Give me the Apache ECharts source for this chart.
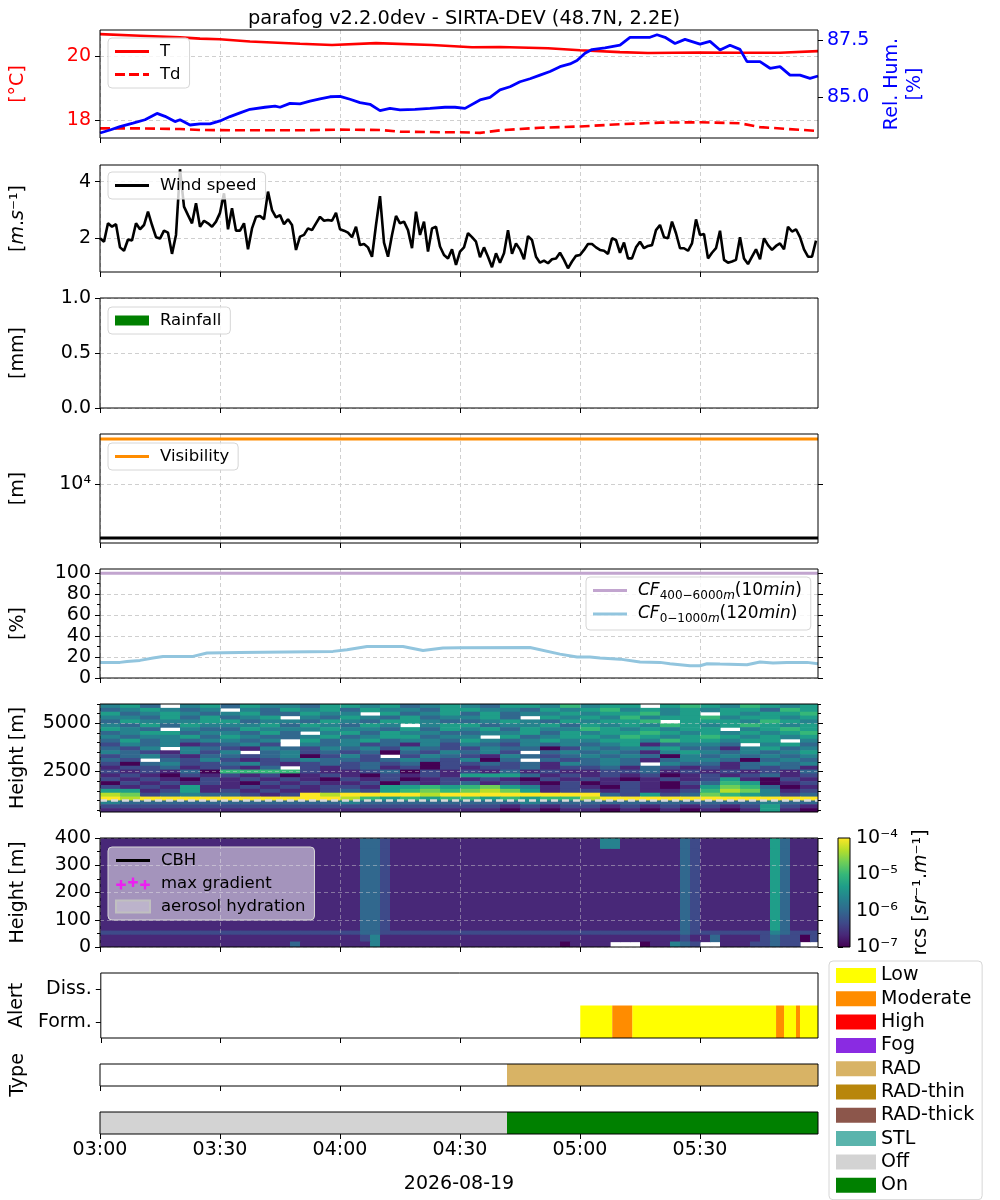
<!DOCTYPE html>
<html lang="en">
  <head>
    <meta charset="UTF-8" />
    <title>parafog v2.2.0dev - SIRTA-DEV</title>
    <script src="https://cdn.jsdelivr.net/npm/echarts@6.0.0/dist/echarts.min.js"></script>
    <style>
      html, body { margin: 0; padding: 0; background: #ffffff; }
      #chart { width: 1000px; height: 1200px; }
    </style>
  </head>
  <body>
    <div id="chart"></div>
    <script>
      var FONT = "DejaVu Sans";

      // time axis: minutes after 03:00 UTC on 2026-08-19
      var xTicks = [0, 30, 60, 90, 120, 150];
      var xMax = 179.5;

      // temperature / dew point [degC]
      var tempTimes = [0, 10, 20, 25, 30, 37.5, 50, 58, 69, 83, 93, 100, 112, 120, 130, 137, 150, 160, 170, 179.5];
      var tempVals = [20.68, 20.63, 20.58, 20.54, 20.52, 20.45, 20.38, 20.34, 20.40, 20.34, 20.27, 20.28, 20.24, 20.18, 20.12, 20.09, 20.11, 20.10, 20.10, 20.15];
      var dewTimes = [0, 10, 20, 25, 35, 50, 60, 70, 75, 85, 90, 95, 100, 110, 120, 130, 140, 150, 160, 165, 172, 179.5];
      var dewVals = [17.74, 17.74, 17.72, 17.69, 17.68, 17.68, 17.70, 17.69, 17.64, 17.62, 17.62, 17.60, 17.68, 17.76, 17.80, 17.87, 17.92, 17.93, 17.90, 17.78, 17.72, 17.66];

      // relative humidity [%]
      var rhTimes = [0, 2.5, 5, 8.25, 11.25, 14.25, 16.25, 18.75, 20, 22.5, 25, 27.5, 30, 32.5, 35, 37.5, 41.25, 43.75, 45, 47.5,
        50, 52.5, 55, 57.5, 60, 62.5, 65, 67.5, 70, 72.5, 75, 78.75, 82.5, 86.25, 88.75, 91.25, 95, 97.5, 100, 102.5,
        105, 107.5, 110, 112.5, 115, 117.5, 119.25, 121.25, 123, 126.25, 130, 132.5, 137.5, 139.25, 141.25, 143.75, 146.25, 150, 152.5, 155,
        157.5, 160, 161.75, 165, 167.5, 170, 172.5, 175, 177.5, 179.5];
      var rhVals = [83.42, 83.55, 83.70, 83.85, 84.00, 84.28, 84.15, 83.92, 84.00, 83.77, 83.82, 83.82, 83.95, 84.14, 84.30, 84.46, 84.55, 84.60, 84.55, 84.72,
        84.70, 84.82, 84.92, 85.01, 85.03, 84.90, 84.75, 84.68, 84.40, 84.50, 84.43, 84.46, 84.50, 84.55, 84.55, 84.50, 84.87, 84.98, 85.31, 85.45,
        85.67, 85.80, 85.96, 86.12, 86.33, 86.45, 86.60, 86.92, 87.08, 87.16, 87.28, 87.62, 87.62, 87.73, 87.62, 87.35, 87.53, 87.32, 87.44, 87.06,
        87.27, 87.09, 86.55, 86.55, 86.26, 86.33, 85.96, 85.96, 85.82, 85.92];

      // wind speed [m/s], one value per minute from 03:00
      var windSpeed = [
        2.00, 1.88, 2.53, 2.41, 2.50, 1.68, 1.56, 1.96, 1.92, 2.53,
        2.32, 2.47, 2.94, 2.47, 2.04, 1.99, 2.27, 2.20, 1.45, 2.12,
        4.44, 3.12, 2.82, 2.53, 3.24, 2.41, 2.62, 2.53, 2.41, 2.59,
        2.90, 3.59, 2.32, 3.06, 2.27, 2.27, 2.53, 1.61, 2.35, 2.76,
        2.79, 2.67, 3.65, 3.00, 2.74, 2.82, 2.50, 2.67, 2.47, 1.59,
        2.06, 2.12, 2.35, 2.29, 2.53, 2.76, 2.62, 2.65, 2.62, 2.90,
        2.32, 2.27, 2.20, 2.04, 2.41, 1.76, 1.80, 1.68, 1.35, 2.47,
        3.49, 1.85, 1.35, 2.12, 2.79, 2.53, 2.59, 2.29, 1.65, 2.94,
        2.12, 2.59, 1.53, 2.35, 2.41, 1.71, 1.41, 1.29, 1.61, 1.06,
        1.53, 1.68, 2.18, 2.04, 1.88, 1.33, 1.68, 1.35, 0.98, 1.47,
        1.14, 1.47, 2.29, 1.45, 1.82, 1.61, 1.26, 2.08, 1.94, 1.35,
        1.14, 1.21, 1.12, 1.26, 1.29, 1.49, 1.24, 0.94, 1.18, 1.38,
        1.41, 1.59, 1.80, 1.80, 1.68, 1.59, 1.56, 1.45, 2.00, 1.94,
        1.49, 1.85, 1.29, 1.29, 1.68, 1.88, 1.65, 1.73, 1.76, 2.29,
        2.47, 2.04, 2.00, 2.59, 2.18, 1.65, 1.65, 1.56, 1.82, 2.67,
        2.12, 2.15, 1.29, 1.49, 1.65, 2.27, 1.24, 1.14, 1.18, 1.24,
        2.04, 1.29, 1.09, 1.35, 1.61, 1.26, 2.00, 1.76, 1.59, 1.73,
        1.82, 1.61, 2.41, 2.24, 2.32, 2.04, 1.61, 1.35, 1.35, 1.92
      ];

      // rainfall [mm] (none)
      var rainTimes = [];
      var rainVals = [];

      // visibility [m]
      var visTimes = [0, 179.5];
      var visVals = [20000, 20000];
      var visLimit = [4400, 4400];

      // cloud fraction [%]
      var cfHighTimes = [0, 179.5];
      var cfHighVals = [100, 100];
      var cfLowTimes = [0, 5, 6.75, 10, 13.25, 15.75, 23.25, 26.75, 35, 58.25, 61.75, 66.75, 75.75, 80.75, 85.75, 90, 107.5, 115, 119.25, 122.5,
        125, 130, 135, 140, 142.5, 147.5, 150, 151.75, 155, 161.75, 165, 168.25, 171.75, 176.75, 179.5];
      var cfLowVals = [14.9, 14.9, 15.8, 16.8, 19.0, 20.6, 20.6, 23.8, 24.4, 25.4, 27.0, 30.1, 30.1, 26.3, 28.6, 28.8, 29.1, 22.8, 20.0, 20.0,
        19.0, 18.0, 15.2, 14.9, 13.6, 11.7, 11.7, 13.6, 13.3, 12.7, 15.2, 14.2, 14.9, 14.9, 13.6];

      // lidar range-corrected signal, coarse: digit d -> log10(rcs) = -7 + d/3, "." = no data
      // 400-6000 m panel: 5-min columns, rows listed top (5800-6000 m) to bottom (400-600 m)
      var hiStep = 5;
      var hiEdges = [400, 600, 800, 1000, 1200, 1400, 1600, 1800, 2000, 2200, 2400, 2600, 2800, 3000, 3200,
        3400, 3600, 3800, 4000, 4200, 4400, 4600, 4800, 5000, 5200, 5400, 5600, 5800, 6000];
      var hiRows = [
        "453.45 354435 545345 435546 455.56 546545",
        "345434 .43545 354435 544354 564545 455365",
        "534543 453354 4.5345 353445 455645 .54556",
        "443535 345.43 543534 453.54 546455 645545",
        "354445 534435 435543 345435 4556.5 554654",
        "435354 445354 354.45 534453 545465 456545",
        "543.43 354445 443535 453544 654545 5.4565",
        "345534 4353.4 535443 344535 455654 545456",
        "434453 543345 345534 4.5345 546545 654545",
        "353434 434.53 453443 543454 455465 5455.4",
        "243412 342.43 423142 432434 345134 43.453",
        "324.43 214324 342432 243302 434453 314534",
        "432142 4.3423 230324 342.34 343145 434345",
        "234213 323402 42.243 214323 434304 343434",
        "32.324 212343 323432 403.32 343134 430343",
        "203422 342123 232302 232314 343.43 313434",
        "122312 213.21 231202 122312 231321 213231",
        "212130 666621 123021 213121 122312 121213",
        "121021 212012 102121 555312 121201 212312",
        "212102 121210 212012 121021 210121 251021",
        "021212 102121 120212 312102 012102 365012",
        "212151 121212 215565 675412 102101 576301",
        "551251 212112 325676 787512 212112 687412",
        "872343 321298 999989 999999 932523 765423",
        "989999 999999 865656 656566 899999 999999",
        "433333 333333 433333 333433 333333 333433",
        "222222 222222 222222 221212 212121 212521",
        "111111 111111 111111 110101 101010 101510"
      ];
      // 0-400 m panel: 2.5-min columns, rows listed top (360-400 m) to bottom (0-20 m)
      var loStep = 2.5;
      var loEdges = [0, 20, 45, 60, 100, 200, 300, 360, 400];
      var loRows = [
        "111111111111 111111111111 113321111111 111111111111 114411111132 111111153111",
        "111111111111 111111111111 113321111111 111111111111 111111111132 111111153111",
        "111111111111 111111111111 113321111111 111111111111 111111111132 111111153111",
        "111111111111 111111111111 113321111111 111111111111 111111111132 111111153111",
        "111111111111 111111111111 113321111111 111111111111 111111111132 111111153111",
        "222222222222 222222222222 223322222222 222222222222 222222222232 222222243222",
        "111111111111 111111111111 112411111111 111111111111 111111111121 131111232202",
        "111111111111 111111131111 111411111111 111111111101 111...011432 ..11122322.."
      ];
      var cbhLevel = [1000, 1000];

      // fog alert / type / status spans [start, end] in minutes
      var alertLevels = ["Form.", "Diss."];
      var alertLow = [[120, 128], [133, 169], [171, 174], [175, 179.5]];
      var alertModerate = [[128, 133], [169, 171], [174, 175]];
      var typeRad = [[101.75, 179.5]];
      var statusOff = [[0, 101.75]];
      var statusOn = [[101.75, 179.5]];

      var viridis = ["#440154", "#482878", "#3e4a89", "#31688e", "#26828e", "#1f9e89", "#35b779", "#6ece58", "#b5de2b", "#fde725"];

      // ---- helpers ----
      function pairs(xs, ys) {
        return xs.map(function (x, i) { return [x, ys[i]]; });
      }
      function hhmm(v) {
        var m = 180 + Math.round(v);
        var h = Math.floor(m / 60), mm = m % 60;
        return (h < 10 ? "0" : "") + h + ":" + (mm < 10 ? "0" : "") + mm;
      }
      var SUP = { "-": "\u207b", "0": "\u2070", "1": "\u00b9", "2": "\u00b2", "3": "\u00b3", "4": "\u2074", "5": "\u2075", "6": "\u2076", "7": "\u2077", "8": "\u2078", "9": "\u2079" };
      function sup(n) {
        return String(n).split("").map(function (c) { return SUP[c] || c; }).join("");
      }
      function plain(v) { return String(v); }
      function merge(base, o) {
        var out = {};
        Object.keys(base).forEach(function (k) { out[k] = base[k]; });
        Object.keys(o).forEach(function (k) {
          var b = out[k], v = o[k];
          if (b && v && typeof b === "object" && typeof v === "object" && !Array.isArray(b) && !Array.isArray(v)) {
            out[k] = Object.assign({}, b, v);
          } else {
            out[k] = v;
          }
        });
        return out;
      }
      function buildCells(rows, edges, step) {
        var cells = [];
        var n = rows.length;
        rows.forEach(function (row, i) {
          var r = n - 1 - i;
          var s = row.replace(/ /g, "");
          for (var c = 0; c < s.length; c++) {
            if (s[c] === ".") continue;
            cells.push([c * step, edges[r], -7 + Number(s[c]) / 3, Math.min((c + 1) * step, xMax), edges[r + 1]]);
          }
        });
        return cells;
      }

      var gridLine = { color: "#cfcfcf", type: [4, 3], width: 1 };
      var gridOver = { color: "rgba(210,210,210,0.45)", type: [4, 3], width: 1 };

      // ---- grids ----
      var panels = [
        [30, 108], [165, 107], [298, 110], [434, 109], [569, 109],
        [704, 108], [838, 109], [973, 65], [1064, 22], [1112, 22]
      ];
      var grids = panels.map(function (p) {
        return { left: 100, width: 718, top: p[0], height: p[1], show: true, borderColor: "#000", borderWidth: 1, backgroundColor: "transparent", z: 6 };
      });
      grids.push({ left: 838, top: 838, width: 12, height: 109, show: true, borderColor: "#000", borderWidth: 1, backgroundColor: "transparent", z: 6 });

      // ---- x axes ----
      var xAxes = [];
      for (var i = 0; i < 10; i++) {
        var xa = {
          type: "value", gridIndex: i, min: 0, max: xMax,
          axisLine: { show: false },
          axisTick: { show: true, length: 5, customValues: xTicks, lineStyle: { color: "#000" } },
          axisLabel: { show: i === 9, customValues: xTicks, formatter: hhmm, fontSize: 19, fontFamily: FONT, color: "#000", margin: 7 },
          splitLine: { show: i <= 6, lineStyle: i >= 5 ? gridOver : gridLine },
          z: i === 5 || i === 6 ? 4 : 0
        };
        if (i === 9) {
          xa.name = "2026-08-19";
          xa.nameLocation = "middle";
          xa.nameGap = 41;
          xa.nameTextStyle = { fontSize: 19, fontFamily: FONT, color: "#000" };
        }
        xAxes.push(xa);
      }
      xAxes.push({ type: "value", gridIndex: 10, min: 0, max: 1, show: false });

      // ---- y axes ----
      var yBase = {
        type: "value", position: "left",
        axisLine: { show: false },
        axisTick: { show: true, length: 5, lineStyle: { color: "#000", width: 1 } },
        axisLabel: { show: true, fontSize: 19, fontFamily: FONT, color: "#000", margin: 9 },
        splitLine: { show: false, lineStyle: gridLine },
        nameLocation: "middle", nameRotate: 90, nameGap: 72,
        nameTextStyle: { fontSize: 19, fontFamily: FONT, color: "#000" }
      };
      function yAx(o) { return merge(yBase, o); }
      function tickOnly(gi, min, max, vals, pos, len) {
        return yAx({ gridIndex: gi, min: min, max: max, position: pos, axisLabel: { show: false }, axisTick: { length: len, customValues: vals } });
      }
      var italicRich = {
        n: { fontSize: 19, fontFamily: FONT, color: "#000" },
        i: { fontSize: 19, fontFamily: FONT, fontStyle: "italic", color: "#000" }
      };
      var cfTicks = [0, 20, 40, 60, 80, 100];
      var cfMinor = [10, 30, 50, 70, 90];
      var hiMajor = [2500, 5000];
      var hiMinor = [500, 1000, 1500, 2000, 3000, 3500, 4000, 4500, 5500, 6000];
      var loMajor = [0, 100, 200, 300, 400];
      var loMinor = [50, 150, 250, 350];

      var yAxes = [
        yAx({ gridIndex: 0, min: 17.44, max: 20.81, axisTick: { customValues: [18, 20] }, axisLabel: { customValues: [18, 20], color: "#ff0000", formatter: plain },
          splitLine: { show: true }, name: "[\u00b0C]", nameTextStyle: { color: "#ff0000" } }),
        yAx({ gridIndex: 0, position: "right", min: 83.2, max: 87.94, axisTick: { customValues: [85, 87.5] },
          axisLabel: { customValues: [85, 87.5], color: "#0000ff", formatter: function (v) { return v.toFixed(1); } },
          name: "Rel. Hum.\n[%]", nameGap: 56, nameTextStyle: { color: "#0000ff", lineHeight: 23 } }),
        yAx({ gridIndex: 1, min: 0.81, max: 4.59, axisTick: { customValues: [2, 4] }, axisLabel: { customValues: [2, 4], formatter: plain },
          splitLine: { show: true }, name: "{n|[}{i|m}{n|.}{i|s}{n|\u207b\u00b9]}", nameTextStyle: { rich: italicRich } }),
        yAx({ gridIndex: 2, min: 0, max: 1, interval: 0.5, axisLabel: { formatter: function (v) { return v.toFixed(1); } },
          splitLine: { show: true }, name: "[mm]" }),
        yAx({ gridIndex: 3, min: 3.61, max: 4.334, axisTick: { customValues: [4] },
          axisLabel: { customValues: [4], formatter: function () { return "10" + sup(4); } },
          splitLine: { show: true }, name: "[m]" }),
        tickOnly(3, 3.61, 4.334, [4], "right", 5),
        yAx({ gridIndex: 4, min: 0, max: 104, axisTick: { customValues: cfTicks }, axisLabel: { customValues: cfTicks, formatter: plain },
          splitLine: { show: true }, name: "[%]" }),
        tickOnly(4, 0, 104, cfMinor, "left", 3),
        tickOnly(4, 0, 104, cfTicks, "right", 5),
        tickOnly(4, 0, 104, cfMinor, "right", 3),
        yAx({ gridIndex: 5, min: 400, max: 6000, axisTick: { customValues: hiMajor }, axisLabel: { customValues: hiMajor, formatter: plain },
          splitLine: { show: true, lineStyle: gridOver }, name: "Height [m]", z: 4 }),
        tickOnly(5, 400, 6000, hiMinor, "left", 3),
        tickOnly(5, 400, 6000, hiMajor, "right", 5),
        tickOnly(5, 400, 6000, hiMinor, "right", 3),
        yAx({ gridIndex: 6, min: 0, max: 400, axisTick: { customValues: loMajor }, axisLabel: { customValues: loMajor, formatter: plain },
          splitLine: { show: true, lineStyle: gridOver }, name: "Height [m]", z: 4 }),
        tickOnly(6, 0, 400, loMinor, "left", 3),
        tickOnly(6, 0, 400, loMajor, "right", 5),
        tickOnly(6, 0, 400, loMinor, "right", 3),
        yAx({ type: "category", gridIndex: 7, data: alertLevels, axisTick: { alignWithLabel: true }, name: "Alert" }),
        yAx({ type: "category", gridIndex: 8, data: ["t"], axisTick: { show: false }, axisLabel: { show: false }, name: "Type" }),
        yAx({ type: "category", gridIndex: 9, data: ["s"], axisTick: { show: false }, axisLabel: { show: false } }),
        yAx({ gridIndex: 10, position: "right", min: -7, max: -4, interval: 1,
          axisLabel: { formatter: function (v) { return "10" + sup(v); }, margin: 6 },
          name: "{n|rcs [}{i|sr}{n|\u207b\u00b9.}{i|m}{n|\u207b\u00b9]}", nameGap: 62, nameTextStyle: { rich: italicRich } })
      ];

      // ---- series ----
      var series = [];
      function add(s) { series.push(s); return series.length - 1; }
      function line(name, xi, yi, data, color, width, dash, z) {
        return add({
          name: name, type: "line", xAxisIndex: xi, yAxisIndex: yi, data: data,
          symbol: "none", showSymbol: false, z: z || 3,
          lineStyle: { color: color, width: width, type: dash || "solid" },
          itemStyle: { color: color }
        });
      }
      function spanRender(color) {
        return function (params, api) {
          var s = api.coord([api.value(0), api.value(2)]);
          var e = api.coord([api.value(1), api.value(2)]);
          var h = api.size([0, 1])[1];
          return { type: "rect", shape: { x: s[0], y: s[1] - h / 2, width: e[0] - s[0], height: h }, style: { fill: color } };
        };
      }
      function spans(name, color, xi, yi, list) {
        return add({
          name: name, type: "custom", xAxisIndex: xi, yAxisIndex: yi,
          itemStyle: { color: color },
          encode: { x: [0, 1], y: 2 },
          data: list.map(function (s) { return [s[0], s[1], 0]; }),
          renderItem: spanRender(color)
        });
      }
      function cellRender(params, api) {
        var p0 = api.coord([api.value(0), api.value(1)]);
        var p1 = api.coord([api.value(3), api.value(4)]);
        return {
          type: "rect",
          shape: { x: p0[0], y: p1[1], width: p1[0] - p0[0] + 0.6, height: p0[1] - p1[1] + 0.6 },
          style: { fill: api.visual("color") }
        };
      }

      line("T", 0, 0, pairs(tempTimes, tempVals), "#ff0000", 2.6);
      line("Td", 0, 0, pairs(dewTimes, dewVals), "#ff0000", 2.6, [10, 5]);
      line("RH", 0, 1, pairs(rhTimes, rhVals), "#0000ff", 2.8);
      line("Wind speed", 1, 2, windSpeed.map(function (v, k) { return [k, v]; }), "#000000", 2.6);
      add({ name: "Rainfall", type: "bar", xAxisIndex: 2, yAxisIndex: 3, data: pairs(rainTimes, rainVals), itemStyle: { color: "#008000" } });
      line("Visibility", 3, 4, pairs(visTimes, visVals.map(Math.log10)), "#ff8c00", 3);
      line("visLimit", 3, 4, pairs(visTimes, visLimit.map(Math.log10)), "#000000", 3);
      line("cf400", 4, 6, pairs(cfHighTimes, cfHighVals), "#c2a5cf", 3);
      line("cf0", 4, 6, pairs(cfLowTimes, cfLowVals), "#92c5de", 3);

      var hiIdx = add({
        name: "rcsHigh", type: "custom", xAxisIndex: 5, yAxisIndex: 10, clip: true, z: 2,
        encode: { x: [0, 3], y: [1, 4] },
        data: buildCells(hiRows, hiEdges, hiStep), renderItem: cellRender
      });
      line("cbh1000", 5, 10, pairs(visTimes, cbhLevel), "#d9d9d9", 2.5, [7, 4], 3);
      var loIdx = add({
        name: "rcsLow", type: "custom", xAxisIndex: 6, yAxisIndex: 14, clip: true, z: 2,
        encode: { x: [0, 3], y: [1, 4] },
        data: buildCells(loRows, loEdges, loStep), renderItem: cellRender
      });
      line("CBH", 6, 14, [], "#000000", 2.6);
      add({ name: "max gradient", type: "scatter", xAxisIndex: 6, yAxisIndex: 14, data: [], itemStyle: { color: "#ff00ff" } });
      add({ name: "aerosol hydration", type: "custom", xAxisIndex: 6, yAxisIndex: 14, data: [],
        itemStyle: { color: "rgba(225,225,225,0.4)", borderColor: "#c0c0c0", borderWidth: 2 },
        renderItem: function () { return null; } });

      spans("Low", "#ffff00", 7, 18, alertLow);
      spans("Moderate", "#ff8c00", 7, 18, alertModerate);
      spans("High", "#ff0000", 7, 18, []);
      spans("Fog", "#8a2be2", 7, 18, []);
      spans("RAD", "#d8b365", 8, 19, typeRad);
      spans("RAD-thin", "#b8860b", 8, 19, []);
      spans("RAD-thick", "#8c564b", 8, 19, []);
      spans("STL", "#5ab4ac", 8, 19, []);
      spans("Off", "#d3d3d3", 9, 20, statusOff);
      spans("On", "#008000", 9, 20, statusOn);

      // colorbar
      add({
        name: "colorbar", type: "custom", xAxisIndex: 10, yAxisIndex: 21, z: 2,
        data: [[0, -7, 1, -4]], encode: { x: [0, 2], y: [1, 3] },
        renderItem: function (params, api) {
          var p0 = api.coord([api.value(0), api.value(1)]);
          var p1 = api.coord([api.value(2), api.value(3)]);
          return {
            type: "rect",
            shape: { x: p0[0], y: p1[1], width: p1[0] - p0[0], height: p0[1] - p1[1] },
            style: {
              fill: {
                type: "linear", x: 0, y: 1, x2: 0, y2: 0,
                colorStops: viridis.map(function (c, k) { return { offset: k / (viridis.length - 1), color: c }; })
              }
            }
          };
        }
      });

      // ---- legends ----
      function panelLegend(o) {
        return Object.assign({
          orient: "vertical", selectedMode: false,
          backgroundColor: "rgba(255,255,255,0.8)", borderColor: "#d6d6d6", borderWidth: 1, borderRadius: 4,
          padding: [5, 9, 5, 7], itemGap: 6, itemWidth: 34, itemHeight: 12, z: 8,
          textStyle: { fontSize: 16.5, fontFamily: FONT, color: "#000", padding: [0, 0, 0, 6] }
        }, o);
      }
      var lineIcon = "path://M0,0h34v3h-34z";
      var dashIcon = "path://M0,0h10v3h-10zM14,0h10v3h-10zM28,0h6v3h-6z";
      var plusIcon = "path://M1,5h8v2h-8zM4,2h2v8h-2zM11,3h8v2h-8zM14,0h2v8h-2zM21,5h8v2h-8zM24,2h2v8h-2z";
      var cfNames = {
        cf400: "{i|CF}{s|400\u22126000}{si|m}{n|(10}{i|min}{n|)}",
        cf0: "{i|CF}{s|0\u22121000}{si|m}{n|(120}{i|min}{n|)}"
      };

      var legends = [
        panelLegend({ left: 108, top: 38, data: [{ name: "T", icon: lineIcon }, { name: "Td", icon: dashIcon }] }),
        panelLegend({ left: 108, top: 172, data: [{ name: "Wind speed", icon: lineIcon }] }),
        panelLegend({ left: 108, top: 307, icon: "rect", itemHeight: 10, data: ["Rainfall"] }),
        panelLegend({ left: 108, top: 443, data: [{ name: "Visibility", icon: lineIcon }] }),
        panelLegend({
          left: 586, top: 577, itemGap: 4,
          data: [{ name: "cf400", icon: lineIcon }, { name: "cf0", icon: lineIcon }],
          formatter: function (name) { return cfNames[name]; },
          textStyle: {
            padding: [0, 0, 0, 6],
            rich: {
              i: { fontSize: 17, fontFamily: FONT, fontStyle: "italic", color: "#000", lineHeight: 22 },
              n: { fontSize: 17, fontFamily: FONT, color: "#000", lineHeight: 22 },
              s: { fontSize: 12, fontFamily: FONT, color: "#000", verticalAlign: "bottom" },
              si: { fontSize: 12, fontFamily: FONT, fontStyle: "italic", color: "#000", verticalAlign: "bottom" }
            }
          }
        }),
        panelLegend({
          left: 108, top: 847, backgroundColor: "rgba(255,255,255,0.5)",
          data: [
            { name: "CBH", icon: lineIcon },
            { name: "max gradient", icon: plusIcon, itemStyle: { color: "#ff00ff" } },
            { name: "aerosol hydration", icon: "rect", itemStyle: { color: "rgba(225,225,225,0.4)", borderColor: "#c0c0c0", borderWidth: 2 } }
          ]
        }),
        {
          orient: "vertical", selectedMode: false, left: 829, top: 961, icon: "rect",
          backgroundColor: "#ffffff", borderColor: "#d6d6d6", borderWidth: 1, borderRadius: 4,
          padding: [5, 8, 5, 7], itemGap: 4.3, itemWidth: 40, itemHeight: 15, z: 8,
          textStyle: { fontSize: 19, fontFamily: FONT, color: "#000" },
          data: ["Low", "Moderate", "High", "Fog", "RAD", "RAD-thin", "RAD-thick", "STL", "Off", "On"]
        }
      ];

      var option = {
        animation: false,
        backgroundColor: "#ffffff",
        textStyle: { fontFamily: FONT },
        title: {
          text: "parafog v2.2.0dev - SIRTA-DEV (48.7N, 2.2E)",
          left: 459, top: 4, textAlign: "center",
          textStyle: { fontSize: 19.4, fontWeight: "normal", fontFamily: FONT, color: "#000" }
        },
        grid: grids,
        xAxis: xAxes,
        yAxis: yAxes,
        visualMap: {
          type: "continuous", show: false, seriesIndex: [hiIdx, loIdx], dimension: 2,
          min: -7, max: -4, inRange: { color: viridis }
        },
        legend: legends,
        series: series
      };

      var chart = echarts.init(document.getElementById("chart"));
      chart.setOption(option);
    </script>
  </body>
</html>
